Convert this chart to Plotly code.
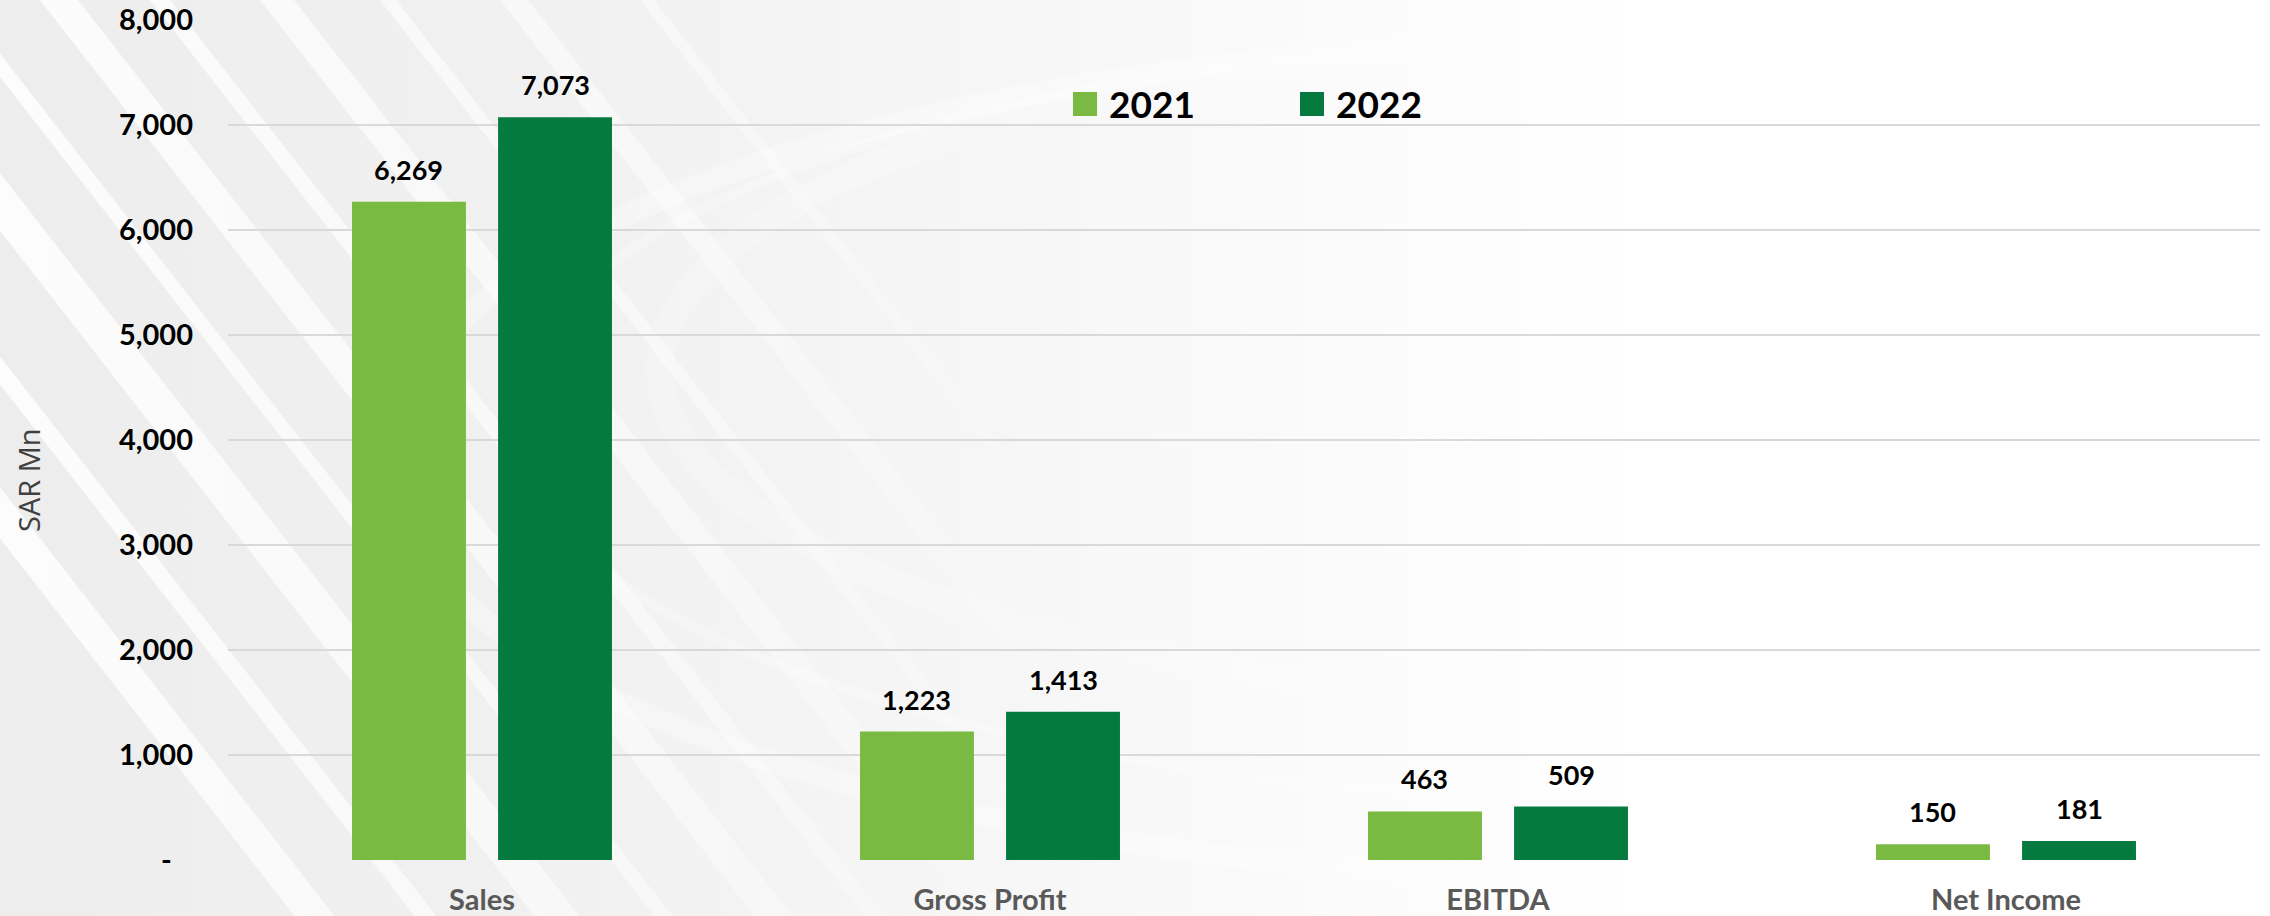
import base64
import plotly.graph_objects as go

categories = ['Sales', 'Gross Profit', 'EBITDA', 'Net Income']
years = ['2021', '2022']
values_2021 = [6269, 1223, 463, 150]
values_2022 = [7073, 1413, 509, 181]
y_ticks = [0, 1000, 2000, 3000, 4000, 5000, 6000, 7000, 8000]

colors = ['#7aba43', '#047a3e']
series = [values_2021, values_2022]

W, H = 2270, 916
L, R, T, B = 228, 10, 20, 56
PW, PH = W - L - R, H - T - B
BARGAP, GROUPGAP = 0.425, 0.22
FONT = 'Lato, Calibri, sans-serif'


def background_svg():
    """Light grey slide background with white diagonal stripes and a swoosh"""
    parts = [
        f'<svg xmlns="http://www.w3.org/2000/svg" width="{W}" height="{H}">',
        '<defs>'
        '<linearGradient id="g" x1="0" y1="0" x2="1" y2="0">'
        '<stop offset="0" stop-color="#ededed"/>'
        '<stop offset="0.25" stop-color="#f1f1f1"/>'
        '<stop offset="0.5" stop-color="#f8f8f8"/>'
        '<stop offset="0.72" stop-color="#ffffff"/>'
        '</linearGradient>'
        '<linearGradient id="s" gradientUnits="userSpaceOnUse" x1="0" y1="0" x2="1100" y2="0">'
        '<stop offset="0" stop-color="#ffffff" stop-opacity="0.85"/>'
        '<stop offset="0.55" stop-color="#ffffff" stop-opacity="0.5"/>'
        '<stop offset="1" stop-color="#ffffff" stop-opacity="0"/>'
        '</linearGradient>'
        '</defs>',
        f'<rect width="{W}" height="{H}" fill="url(#g)"/>',
    ]
    # diagonal stripes, (top x, band width)
    for x0, bw in [(-420, 40), (-300, 22), (-180, 45), (-60, 18), (40, 38),
                   (150, 20), (260, 34), (380, 16), (500, 28), (640, 14)]:
        dx = 0.78 * H
        parts.append(
            f'<polygon points="{x0},0 {x0 + bw},0 {x0 + bw + dx},{H} {x0 + dx},{H}" '
            f'fill="url(#s)"/>')
    # faint swoosh arcs in the upper middle
    for ry, sw, op in [(420, 22, 0.3), (380, 10, 0.25), (330, 28, 0.2)]:
        parts.append(f'<ellipse cx="1650" cy="{ry + 40}" rx="{ry * 3}" ry="{ry}" fill="none" '
                     f'stroke="#ffffff" stroke-width="{sw}" opacity="{op}"/>')
    parts.append('</svg>')
    return 'data:image/svg+xml;base64,' + base64.b64encode(''.join(parts).encode()).decode()


fig = go.Figure()

for name, vals, col in zip(years, series, colors):
    fig.add_trace(go.Bar(
        x=categories,
        y=vals,
        name=name,
        marker=dict(color=col, line=dict(width=0)),
        showlegend=False,
        hovertemplate='<b>%{x}</b><br>' + name + ': %{y:,}<extra></extra>'
    ))

# value labels above each bar
slot = (1 - BARGAP) * PW / len(categories) / len(years)
annotations = []
for i, vals in enumerate(series):
    shift = (i - (len(years) - 1) / 2) * slot
    for cat, v in zip(categories, vals):
        annotations.append(dict(
            x=cat, y=v, xref='x', yref='y', text=f'{v:,}', showarrow=False,
            xshift=shift, yshift=14, yanchor='bottom',
            font=dict(family=FONT, size=27, color='#000000', weight='bold')
        ))

# legend drawn as coloured squares + text
legend_x = [(1073 - L) / PW, (1300 - L) / PW]
sq = 24
shapes = []
for name, col, lx in zip(years, colors, legend_x):
    shapes.append(dict(
        type='rect', xref='paper', yref='paper',
        x0=lx, x1=lx + sq / PW, y0=1 - (116 - T) / PH, y1=1 - (92 - T) / PH,
        fillcolor=col, line=dict(width=0)
    ))
    annotations.append(dict(
        x=lx + (sq + 10) / PW, y=1 - (104 - T) / PH, xref='paper', yref='paper',
        text=name, showarrow=False, xanchor='left', yanchor='middle',
        font=dict(family=FONT, size=37, color='#000000', weight='bold')
    ))

# y-axis title
annotations.append(dict(
    x=(28 - L) / PW, y=1 - (480 - T) / PH, xref='paper', yref='paper',
    text='SAR Mn', textangle=-90, showarrow=False,
    xanchor='center', yanchor='middle',
    font=dict(family='Open Sans, sans-serif', size=29, color='#404040')
))

fig.update_layout(
    width=W, height=H,
    margin=dict(l=L, r=R, t=T, b=B, autoexpand=False),
    barmode='group',
    bargap=BARGAP,
    bargroupgap=GROUPGAP,
    paper_bgcolor='#ffffff',
    plot_bgcolor='rgba(0,0,0,0)',
    annotations=annotations,
    shapes=shapes,
    images=[dict(
        source=background_svg(), xref='paper', yref='paper',
        x=-L / PW, y=1 + T / PH, sizex=W / PW, sizey=H / PH,
        xanchor='left', yanchor='top', sizing='stretch', layer='below'
    )],
    xaxis=dict(
        automargin=False,
        showgrid=False, showline=False, zeroline=False, ticks='',
        ticklabelstandoff=20,
        tickfont=dict(family=FONT, size=29, color='#595959', weight='bold')
    ),
    yaxis=dict(
        automargin=False,
        range=[0, 8000],
        tickvals=y_ticks,
        ticktext=['-\u00a0\u00a0\u00a0' if t == 0 else f'{t:,}' for t in y_ticks],
        showgrid=True, gridcolor='#d9d9d9', gridwidth=2,
        zeroline=False, showline=False, ticks='',
        ticklabelstandoff=34,
        tickfont=dict(family=FONT, size=29, color='#000000', weight='bold')
    ),
    hovermode='closest'
)

# drop the default page margin so the figure fills the window
fig.write_html("out.html", config={'displayModeBar': False},
               post_script="document.body.style.margin='0';")
